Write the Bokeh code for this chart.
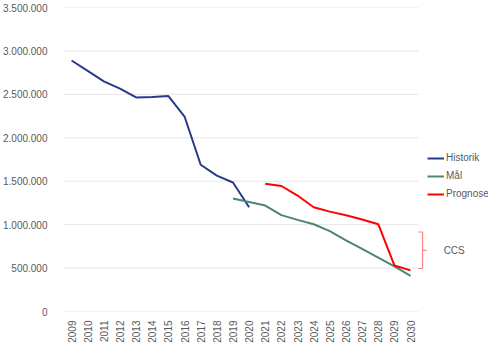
from bokeh.plotting import figure
from bokeh.models import FixedTicker, Range1d, Legend, LegendItem
from bokeh.embed import file_html
from bokeh.resources import INLINE
from bokeh.core.properties import value

years = list(range(2009, 2031))
year_labels = [str(y) for y in years]

hist_years = list(range(2009, 2021))
historik = [2890000, 2770000, 2650000, 2565000, 2465000, 2470000, 2480000,
            2245000, 1690000, 1565000, 1485000, 1200000]

maal_years = list(range(2019, 2031))
maal = [1300000, 1260000, 1220000, 1110000, 1055000, 1005000, 925000,
        820000, 720000, 620000, 520000, 410000]

prog_years = list(range(2021, 2031))
prognose = [1470000, 1445000, 1335000, 1200000, 1150000, 1108000, 1060000,
            1005000, 530000, 473000]

y_ticks = [0, 500000, 1000000, 1500000, 2000000, 2500000, 3000000, 3500000]
y_tick_labels = ["0", "500.000", "1.000.000", "1.500.000", "2.000.000",
                 "2.500.000", "3.000.000", "3.500.000"]

ccs_label = "CCS"
ccs_top = 915000
ccs_bottom = 495000

FONT = "Liberation Sans"
TXT = "#595959"
FS = "10px"

def idx(ys):
    return [y - years[0] for y in ys]

n = len(years)
p = figure(width=488, height=345, output_backend="svg", toolbar_location=None,
           x_range=Range1d(-0.5, 25.83), y_range=Range1d(0, 3500000),
           min_border_left=61, min_border_right=0, min_border_top=7,
           min_border_bottom=0)
p.outline_line_color = None
p.background_fill_color = "white"
p.border_fill_color = "white"
p.xgrid.visible = False
p.ygrid.visible = False

# gridlines only across the category span
p.segment(x0=[-0.5] * len(y_ticks), x1=[n - 0.5] * len(y_ticks), y0=y_ticks, y1=y_ticks,
          line_color="#E6E6E6", line_width=1)

r1 = p.line(idx(hist_years), historik, line_color="#283A8C", line_width=2)
r2 = p.line(idx(maal_years), maal, line_color="#4F8472", line_width=2)
r3 = p.line(idx(prog_years), prognose, line_color="#FF0000", line_width=2)

# CCS bracket
bx = n - 1 + 0.75
bc = "#FF6F6F"
p.segment(x0=[bx, bx - 0.25, bx - 0.25, bx], x1=[bx, bx, bx, bx + 0.25],
          y0=[ccs_top, ccs_top, ccs_bottom, (ccs_top + ccs_bottom) / 2],
          y1=[ccs_bottom, ccs_top, ccs_bottom, (ccs_top + ccs_bottom) / 2],
          line_color=bc, line_width=1)
p.text(x=[bx + 1.3], y=[(ccs_top + ccs_bottom) / 2], text=[ccs_label],
       text_font=value(FONT), text_font_size=FS, text_color=TXT,
       text_align="left", text_baseline="middle")

legend = Legend(items=[LegendItem(label="Historik", renderers=[r1]),
                       LegendItem(label="Mål", renderers=[r2]),
                       LegendItem(label="Prognose", renderers=[r3])],
                location=(364, 112), orientation="vertical",
                background_fill_alpha=0, border_line_color=None,
                label_text_font=FONT, label_text_font_size=FS,
                label_text_color=TXT, glyph_width=17, glyph_height=10,
                spacing=7, padding=0, margin=0, label_standoff=2,
                label_height=10)
p.add_layout(legend)

p.xaxis.ticker = FixedTicker(ticks=list(range(n)))
p.xaxis.major_label_overrides = {i: lab for i, lab in enumerate(year_labels)}
p.xaxis.major_label_orientation = 1.5707963
p.xaxis.axis_line_color = None
p.xaxis.major_tick_line_color = None
p.xaxis.minor_tick_line_color = None
p.xaxis.major_label_standoff = 3
p.xaxis.major_label_text_font = FONT
p.xaxis.major_label_text_font_size = FS
p.xaxis.major_label_text_color = TXT

p.yaxis.ticker = FixedTicker(ticks=y_ticks)
p.yaxis.major_label_overrides = {t: l for t, l in zip(y_ticks, y_tick_labels)}
p.yaxis.axis_line_color = None
p.yaxis.major_tick_line_color = None
p.yaxis.minor_tick_line_color = None
p.yaxis.major_label_standoff = 10
p.yaxis.major_label_text_font = FONT
p.yaxis.major_label_text_font_size = FS
p.yaxis.major_label_text_color = TXT

open("out.html", "w").write(file_html(p, INLINE))
